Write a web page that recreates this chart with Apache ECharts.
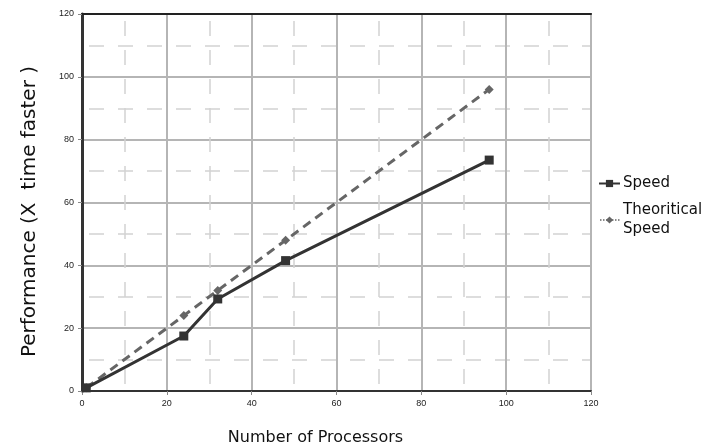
<!DOCTYPE html>
<html><head><meta charset="utf-8">
<script src="https://cdn.jsdelivr.net/npm/echarts@6/dist/echarts.min.js"></script>
<style>html,body{margin:0;padding:0;background:#fff}#c{width:708px;height:445px}</style>
</head><body><div id="c"></div>
<script>
var processors = [1, 24, 32, 48, 96];
var speed = [1, 17.5, 29.3, 41.5, 73.5];
var theoretical = [1, 24, 32, 48, 96];
var seriesNames = ['Speed', 'Theoritical Speed'];

function pairs(xs, ys){ return xs.map(function(x,i){ return [x, ys[i]]; }); }

var chart = echarts.init(document.getElementById('c'), null, {renderer:'canvas'});
var tickFont = {fontFamily:'Liberation Sans', fontSize:9, color:'#222'};
var minorSplit = {show:true, lineStyle:{color:'#d2d2d2', width:1.5, type:[15,14], dashOffset:-7}};
chart.setOption({
  animation:false,
  grid:{left:82, right:117, top:14, bottom:54, show:true, borderColor:'#999', borderWidth:2, backgroundColor:'#fff', outerBoundsMode:'none', containLabel:false},
  legend:{
    orient:'vertical', left:598, top:174, padding:0, itemGap:8, itemWidth:21, itemHeight:9,
    textStyle:{fontFamily:'DejaVu Sans', fontSize:15, lineHeight:19, color:'#111', padding:[0,0,0,-2]},
    formatter:function(n){ return n === 'Theoritical Speed' ? 'Theoritical\nSpeed' : n; },
    data:[{name:'Speed'},{name:'Theoritical Speed', lineStyle:{type:'dotted', width:1.5}}]
  },
  xAxis:[{
    type:'value', min:0, max:120, interval:20,
    name:'Number of Processors', nameLocation:'middle', nameGap:39,
    nameTextStyle:{fontFamily:'DejaVu Sans', fontSize:16, color:'#111', padding:[0,42,0,0]},
    axisLine:{show:true, lineStyle:{color:'#333', width:2}},
    axisTick:{show:true, length:4, lineStyle:{color:'#888'}},
    axisLabel:Object.assign({margin:8}, tickFont),
    splitLine:{show:true, lineStyle:{color:'#b5b5b5', width:2}},
    minorTick:{show:false, splitNumber:2},
    minorSplitLine:minorSplit
  },{
    type:'value', position:'top', min:0, max:120, interval:20,
    axisLine:{show:true, lineStyle:{color:'#222', width:2}},
    axisTick:{show:false}, axisLabel:{show:false}, splitLine:{show:false}
  }],
  yAxis:[{
    type:'value', min:0, max:120, interval:20,
    name:'Performance (X  time faster )', nameLocation:'middle', nameGap:42,
    nameTextStyle:{fontFamily:'DejaVu Sans', fontSize:20, color:'#111', padding:[0,18,0,0]},
    axisLine:{show:true, lineStyle:{color:'#333', width:3}},
    axisTick:{show:true, length:4, lineStyle:{color:'#888'}},
    axisLabel:Object.assign({margin:8}, tickFont),
    splitLine:{show:true, lineStyle:{color:'#b5b5b5', width:2}},
    minorTick:{show:false, splitNumber:2},
    minorSplitLine:minorSplit
  }],
  series:[{
    name:seriesNames[0], type:'line', data:pairs(processors, speed),
    symbol:'rect', symbolSize:9, z:3,
    lineStyle:{color:'#333', width:3}, itemStyle:{color:'#333'}
  },{
    name:seriesNames[1], type:'line', data:pairs(processors, theoretical),
    symbol:'diamond', symbolSize:9, z:2,
    lineStyle:{color:'#666', width:3, type:[9,6]}, itemStyle:{color:'#666'}
  }]
});
</script></body></html>
